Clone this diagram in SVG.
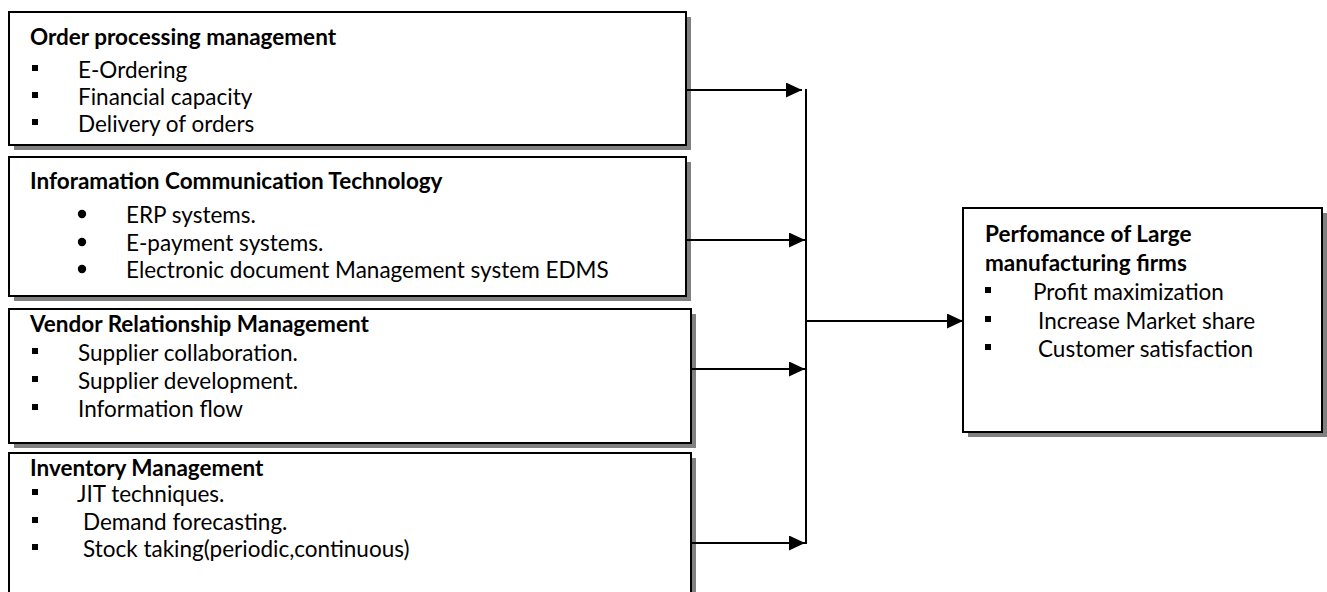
<svg xmlns="http://www.w3.org/2000/svg" width="1327" height="592" viewBox="0 0 1327 592">
<style>
.shadow{fill:#808080}
.box{fill:#fff;stroke:#000;stroke-width:2}
.t{font-family:Lato,"Liberation Sans",sans-serif;font-size:22.5px;fill:#000}
.b{font-weight:bold}
.sq{fill:#000}
.conn{stroke:#000;stroke-width:2;fill:none}
</style>
<defs>
<marker id="ah" markerUnits="userSpaceOnUse" markerWidth="16" markerHeight="15" refX="16" refY="7.5" orient="auto">
<path d="M0,0 L16,7.5 L0,15 Z" fill="#000"/>
</marker>
<clipPath id="c1"><rect x="10" y="13" width="675" height="123"/></clipPath>
<clipPath id="c2"><rect x="10" y="158" width="675" height="125"/></clipPath>
</defs>
<rect width="1327" height="592" fill="#fff"/>

<g id="order-processing">
<rect class="shadow" x="14" y="17" width="677" height="133"/>
<rect class="box" x="9" y="12" width="677" height="133"/>
<g clip-path="url(#c1)">
<text class="t b" x="30" y="45">Order processing management</text>
<rect class="sq" x="32" y="65" width="6" height="6"/>
<text class="t" x="78" y="78">E-Ordering</text>
<rect class="sq" x="32" y="92" width="6" height="6"/>
<text class="t" x="78" y="105">Financial capacity</text>
<rect class="sq" x="32" y="119" width="6" height="6"/>
<text class="t" x="78" y="132">Delivery of orders</text>
</g>
</g>

<g id="ict">
<rect class="shadow" x="14" y="162" width="677" height="139"/>
<rect class="box" x="9" y="157" width="677" height="139"/>
<g clip-path="url(#c2)">
<text class="t b" x="30" y="189">Inforamation Communication Technology</text>
<circle cx="82" cy="214" r="4.2"/>
<text class="t" x="126" y="223">ERP systems.</text>
<circle cx="82" cy="242" r="4.2"/>
<text class="t" x="126" y="251">E-payment systems.</text>
<circle cx="82" cy="269" r="4.2"/>
<text class="t" x="126" y="278">Electronic document Management system EDMS</text>
</g>
</g>

<g id="vendor">
<rect class="shadow" x="14" y="314" width="682" height="134"/>
<rect class="box" x="9" y="309" width="682" height="134"/>
<text class="t b" x="30" y="332">Vendor Relationship Management</text>
<rect class="sq" x="32" y="348" width="6" height="6"/>
<text class="t" x="78" y="361">Supplier collaboration.</text>
<rect class="sq" x="32" y="376" width="6" height="6"/>
<text class="t" x="78" y="389">Supplier development.</text>
<rect class="sq" x="32" y="404" width="6" height="6"/>
<text class="t" x="78" y="417">Information flow</text>
</g>

<g id="inventory">
<rect class="shadow" x="14" y="458" width="682" height="150"/>
<rect class="box" x="9" y="453" width="682" height="150"/>
<text class="t b" x="30" y="476">Inventory Management</text>
<rect class="sq" x="32" y="489" width="6" height="6"/>
<text class="t" x="77" y="502">JIT techniques.</text>
<rect class="sq" x="32" y="517" width="6" height="6"/>
<text class="t" x="83" y="530">Demand forecasting.</text>
<rect class="sq" x="32" y="544" width="6" height="6"/>
<text class="t" x="83" y="557">Stock taking(periodic,continuous)</text>
</g>

<g id="performance">
<rect class="shadow" x="968" y="213" width="359" height="224"/>
<rect class="box" x="963" y="208" width="359" height="224"/>
<text class="t b" x="985" y="242">Perfomance of Large</text>
<text class="t b" x="985" y="271">manufacturing firms</text>
<rect class="sq" x="985" y="287" width="6" height="6"/>
<text class="t" x="1033" y="300">Profit maximization</text>
<rect class="sq" x="985" y="316" width="6" height="6"/>
<text class="t" x="1038" y="329">Increase Market share</text>
<rect class="sq" x="985" y="344" width="6" height="6"/>
<text class="t" x="1038" y="357">Customer satisfaction</text>
</g>

<g id="connectors">
<path class="conn" d="M686,90 H802" marker-end="url(#ah)"/>
<path class="conn" d="M686,240 H805" marker-end="url(#ah)"/>
<path class="conn" d="M691,369 H805" marker-end="url(#ah)"/>
<path class="conn" d="M691,543 H805" marker-end="url(#ah)"/>
<path class="conn" d="M806,89 V544"/>
<path class="conn" d="M806,321 H963" marker-end="url(#ah)"/>
</g>
</svg>
